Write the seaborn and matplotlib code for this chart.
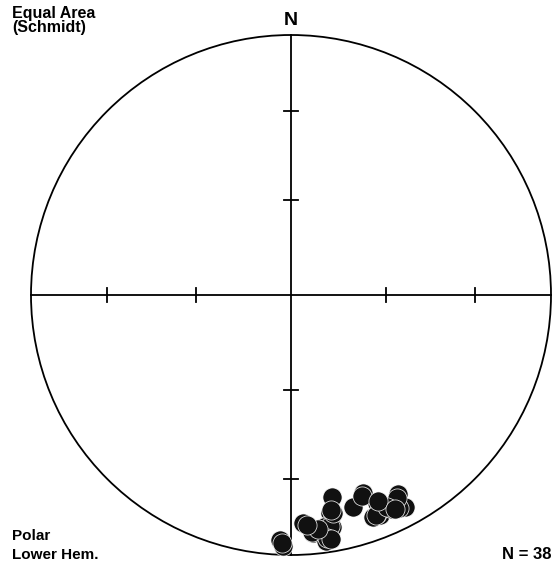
import numpy as np
import pandas as pd
import matplotlib
matplotlib.use("Agg")
import matplotlib.pyplot as plt
import seaborn as sns
from matplotlib.patches import Circle

# Pole data (trend, plunge in degrees), lower hemisphere
trend = [182.6, 181.8, 168.5, 169.8, 177.0, 173.7, 174.7, 171.1, 170.0, 171.9,
         163.7, 160.0, 157.5, 159.8, 158.0, 154.8, 151.7, 151.7,
         173.0, 172.0, 170.5, 175.0, 169.0, 171.5, 158.5, 156.0, 153.0, 152.5,
         160.5, 158.8, 155.5, 170.8, 173.5, 176.0, 182.0, 169.5, 157.0, 154.0]
plunge = [6.4, 3.8, 21.8, 16.0, 13.2, 10.0, 9.0, 11.4, 10.4, 5.0,
          16.2, 20.0, 14.4, 9.8, 9.6, 9.8, 14.2, 8.2,
          9.5, 10.8, 11.0, 9.5, 15.5, 6.0, 10.5, 12.0, 9.0, 13.0,
          19.0, 10.0, 11.5, 5.5, 10.2, 12.5, 5.0, 17.0, 15.0, 9.5]

N_LABEL = "N = 38"
TITLE_LINES = ["Equal Area", "(Schmidt)"]
FOOT_LINES = ["Polar", "Lower Hem."]
TICK_PLUNGES = [30, 60]

def project(tr, pl):
    tr = np.radians(np.asarray(tr))
    pl = np.radians(np.asarray(pl))
    r = np.sqrt(2) * np.sin((np.pi / 2 - pl) / 2)
    return r * np.sin(tr), r * np.cos(tr)

x, y = project(trend, plunge)
df = pd.DataFrame({"x": x, "y": y})

W, H = 553, 568
cx, cy, R = 291, 295, 260
fig = plt.figure(figsize=(W / 100, H / 100), dpi=100)
ax = fig.add_axes([0, 0, 1, 1])
ax.set_xlim(-cx / R, (W - cx) / R)
ax.set_ylim(-(H - cy) / R, cy / R)
ax.axis("off")

ax.add_patch(Circle((0, 0), 1, fill=False, lw=1.3, color="black"))
ax.plot([-1, 1], [0, 0], color="black", lw=1.3)
ax.plot([0, 0], [-1, 1], color="black", lw=1.3)
tl = 7 / R
for p in TICK_PLUNGES:
    r = np.sqrt(2) * np.sin(np.radians(90 - p) / 2)
    for s in (-1, 1):
        ax.plot([s * r, s * r], [-tl, tl], color="black", lw=1.3)
        ax.plot([-tl, tl], [s * r, s * r], color="black", lw=1.3)

sns.scatterplot(data=df, x="x", y="y", ax=ax, s=190, color="#111111",
                edgecolor="white", linewidth=0.5, zorder=5, legend=False)

font = "Liberation Sans"
def put(px, py, s, size, ha="left"):
    fig.text(px / W, 1 - py / H, s, ha=ha, va="baseline", fontsize=size,
             family=font, fontweight="bold")

put(291, 25, "N", 14, ha="center")
put(12, 18, TITLE_LINES[0], 11.5)
put(12, 32, TITLE_LINES[1], 11.5)
put(12, 540, FOOT_LINES[0], 11)
put(12, 559, FOOT_LINES[1], 11)
put(552, 559, N_LABEL, 12, ha="right")

fig.savefig("out.png", dpi=100)
